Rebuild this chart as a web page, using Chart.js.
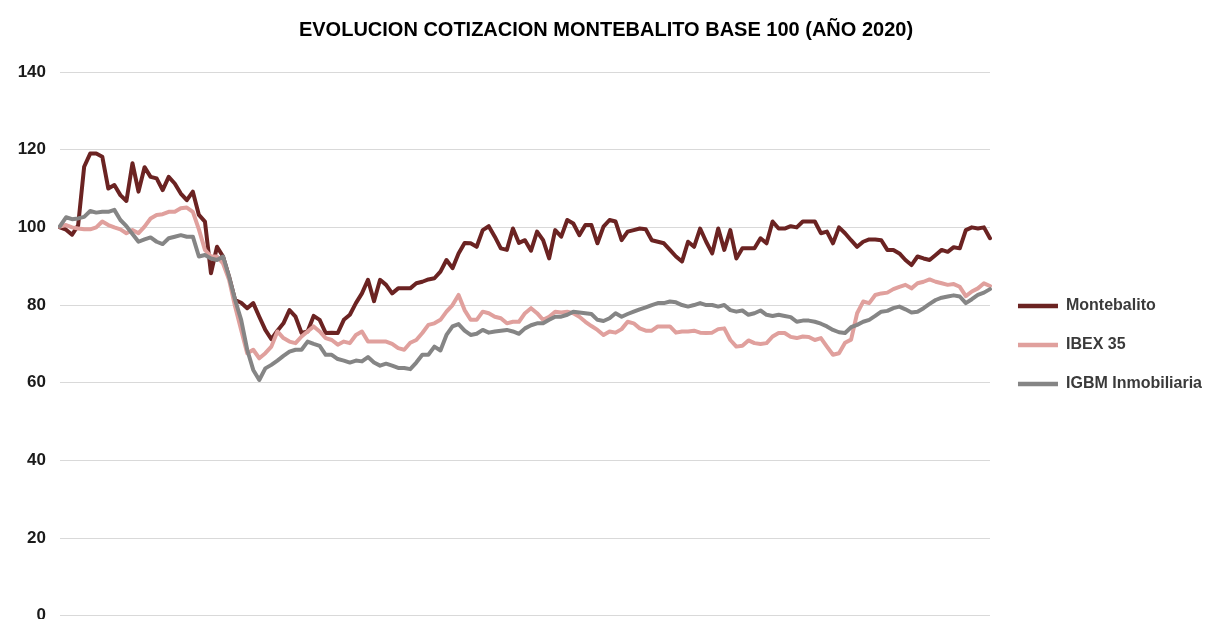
<!DOCTYPE html>
<html>
<head>
<meta charset="utf-8">
<script src="https://cdn.jsdelivr.net/npm/chart.js@4/dist/chart.umd.min.js"></script>
<style>
  html, body { margin: 0; padding: 0; background: #ffffff; overflow: hidden; width: 1205px; height: 619px; }
  #wrap { position: absolute; left: 0; top: 0; width: 1225px; height: 640px; }
</style>
</head>
<body>
<div id="wrap"><canvas id="c" width="1225" height="640"></canvas></div>
<script>
const TITLE = 'EVOLUCION COTIZACION MONTEBALITO BASE 100 (AÑO 2020)';
const SERIES_NAMES = ['Montebalito', 'IBEX 35', 'IGBM Inmobiliaria'];
const Y_TICKS = [0, 20, 40, 60, 80, 100, 120, 140];

const MONTEBALITO = [
  100, 99.4, 98.1, 100.5, 115.6, 119, 119, 118.2, 110, 110.9,
  108.3, 106.8, 116.5, 109.2, 115.5, 113, 112.6, 109.6, 113, 111.3,
  108.7, 107, 109.2, 103.2, 101.5, 88.2, 95, 92.5, 87.3, 81.3,
  80.6, 79.2, 80.5, 77, 73.6, 71.2, 73.4, 75.3, 78.7, 77,
  72.8, 73.2, 77.2, 76.2, 72.8, 72.9, 72.8, 76.2, 77.5, 80.5,
  83, 86.5, 81, 86.5, 85.2, 83, 84.3, 84.3, 84.3, 85.6,
  86, 86.6, 86.9, 88.6, 91.6, 89.5, 93.3, 96, 95.9, 95,
  99.3, 100.3, 97.6, 94.6, 94.2, 99.7, 96,
  96.7, 94, 98.9, 96.7, 92, 99.3, 97.6, 101.9, 101, 98, 100.6, 100.6, 95.9,
  100.2, 101.9, 101.5, 96.7, 98.9, 99.3, 99.7, 99.5, 96.7, 96.3,
  95.9, 94.2, 92.5, 91.2, 96.3, 95, 99.7, 96.3, 93.3, 99.7,
  94.2, 99.3, 92, 94.6, 94.6, 94.6,
  97.2, 95.9, 101.5, 99.7, 99.7, 100.3, 100, 101.5, 101.5, 101.5,
  98.5, 98.9, 95.9, 100, 98.5, 96.7, 95, 96.3, 96.9, 96.9,
  96.7, 94.2, 94.2, 93.3, 91.6, 90.3, 92.5, 92, 91.6, 92.9,
  94.2, 93.7, 94.9, 94.6, 99.3, 100, 99.7, 100, 97.2
];

const IBEX35 = [
  100.2, 100.6, 100, 99.7, 99.5, 99.5, 100, 101.5, 100.6, 100,
  99.5, 98.5, 99.3, 98.5, 100.2, 102.3, 103.2, 103.4, 104, 104,
  104.9, 105.1, 104, 99.5, 94.2, 92.5, 92.5, 90.7, 86.5, 79.6,
  73.6, 67.6, 68.5, 66.3, 67.6, 69.3, 73.2, 71.5, 70.6, 70.2,
  71.9, 73.2, 74.5, 73.2, 71.5, 71, 69.8, 70.6, 70.2, 72.3,
  73.2, 70.6, 70.6, 70.6, 70.6, 70, 68.9, 68.5, 70.3, 71,
  72.8, 74.9, 75.3, 76.2, 78.3, 80, 82.6, 78.7, 76.2, 76.2,
  78.3, 77.9, 77, 76.6, 75.3, 75.7, 75.7,
  77.9, 79.2, 77.9, 76.2, 77, 78.3, 78.1, 78.3, 77.9, 77, 75.7, 74.6, 73.6,
  72.3, 73.2, 72.9, 73.8, 75.7, 75.3, 74, 73.4, 73.4, 74.5,
  74.5, 74.5, 72.9, 73.2, 73.2, 73.4, 72.9, 72.8, 72.9, 73.8,
  74, 71, 69.3, 69.5, 70.9, 70.2,
  70, 70.2, 71.9, 72.8, 72.8, 71.8, 71.5, 71.9, 71.8, 71,
  71.5, 69.3, 67.2, 67.6, 70.3, 71.1, 77.9, 80.9, 80.5, 82.6,
  83, 83.2, 84.1, 84.7, 85.2, 84.3, 85.6, 86, 86.6, 86,
  85.6, 85.2, 85.4, 84.7, 82.3, 83.5, 84.3, 85.6, 84.9
];

const IGBM_INMOBILIARIA = [
  100.3, 102.6, 102.1, 102.3, 102.7, 104.2, 103.8, 104, 104, 104.5,
  101.9, 100.3, 98.3, 96.3, 96.9, 97.4, 96.3, 95.7, 97.2, 97.6,
  98, 97.6, 97.6, 92.5, 92.9, 92, 91.6, 92.5, 87.3, 81.3,
  76.2, 68.5, 63.3, 60.7, 63.7, 64.6, 65.7, 66.9, 68, 68.5,
  68.5, 70.6, 70, 69.5, 67.2, 67.2, 66.1, 65.7, 65.2, 65.7,
  65.5, 66.6, 65.2, 64.4, 64.9, 64.4, 63.8, 63.8, 63.5, 65.2,
  67.2, 67.2, 69.3, 68.3, 72.3, 74.5, 75.1, 73.4, 72.3, 72.6,
  73.6, 72.9, 73.2, 73.4, 73.6, 73.2, 72.6,
  74, 74.8, 75.3, 75.3, 76.2, 77, 77, 77.5, 78.3, 78.1, 77.9, 77.7, 76.2,
  75.9, 76.6, 77.9, 77, 77.7, 78.3, 78.9, 79.4, 80, 80.5,
  80.5, 80.9, 80.7, 80, 79.6, 80, 80.5, 80, 80, 79.6,
  80, 78.7, 78.3, 78.6, 77.5, 77.9,
  78.6, 77.5, 77.2, 77.5, 77.2, 76.9, 75.7, 76, 76, 75.7,
  75.2, 74.5, 73.6, 73, 72.8, 74.3, 74.9, 75.7, 76.2, 77.2,
  78.3, 78.5, 79.2, 79.6, 78.9, 78.1, 78.3, 79.2, 80.3, 81.3,
  81.9, 82.2, 82.5, 82.2, 80.5, 81.5, 82.6, 83.2, 84.1
];

// session index used as category (the x axis is not labelled in the original)
const SESSIONS = MONTEBALITO.map((_, i) => String(i + 1));

const FONT = "'Liberation Sans', Arial, sans-serif";
const COLORS = ['#6b2322', '#e0a09d', '#858585'];

new Chart(document.getElementById('c'), {
  type: 'line',
  data: {
    labels: SESSIONS,
    datasets: [
      { label: SERIES_NAMES[0], data: MONTEBALITO, borderColor: COLORS[0], backgroundColor: COLORS[0], pointBorderWidth: 4.5, order: 3 },
      { label: SERIES_NAMES[1], data: IBEX35, borderColor: COLORS[1], backgroundColor: COLORS[1], pointBorderWidth: 4.5, order: 2 },
      { label: SERIES_NAMES[2], data: IGBM_INMOBILIARIA, borderColor: COLORS[2], backgroundColor: COLORS[2], pointBorderWidth: 4.5, order: 1 }
    ]
  },
  options: {
    responsive: false,
    animation: false,
    events: [],
    elements: {
      line: { borderWidth: 4, tension: 0, borderCapStyle: 'round', borderJoinStyle: 'round' },
      point: { radius: 0, hoverRadius: 0 }
    },
    layout: { padding: { left: 0, right: 13, top: 0, bottom: 24 } },
    plugins: {
      title: {
        display: true,
        text: TITLE,
        color: '#000000',
        font: { family: FONT, size: 20, weight: 'bold', lineHeight: 1.2 },
        padding: { top: 18, bottom: 30 }
      },
      legend: {
        display: true,
        position: 'right',
        align: 'center',
        title: { display: true, text: ' ', padding: 31, font: { size: 10, lineHeight: 1.2 } },
        labels: {
          usePointStyle: true,
          pointStyle: 'line',
          pointStyleWidth: 40,
          padding: 23,
          color: '#3a3a3a',
          font: { family: FONT, size: 16, weight: 'bold' },
          sort: (a, b) => a.datasetIndex - b.datasetIndex
        }
      },
      tooltip: { enabled: false }
    },
    scales: {
      x: { display: false },
      y: {
        min: 0,
        max: 140,
        afterBuildTicks: (s) => { s.ticks = Y_TICKS.map(v => ({ value: v })); },
        afterFit: (s) => { s.width = 60; },
        grid: { color: '#d9d9d9', lineWidth: 1, drawTicks: false },
        border: { display: false },
        ticks: {
          padding: 14,
          color: '#1a1a1a',
          font: { family: FONT, size: 17, weight: 'bold' }
        }
      },
      spacer: {
        type: 'linear',
        position: 'right',
        display: false,
        afterFit: (s) => { s.width = 5; }
      }
    }
  }
});
</script>
</body>
</html>
